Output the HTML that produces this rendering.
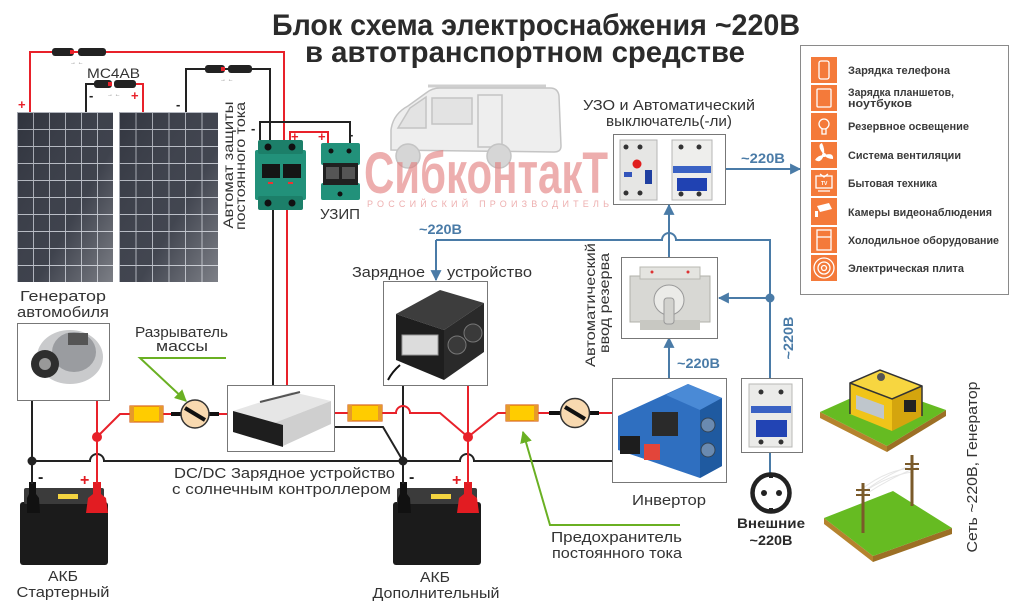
<!DOCTYPE html>
<html><head><meta charset="utf-8">
<style>
html,body{margin:0;padding:0;background:#fff;}
svg{display:block;}
text{font-family:"Liberation Sans","DejaVu Sans",sans-serif;}
</style></head>
<body>
<svg width="1024" height="612" viewBox="0 0 1024 612" xmlns="http://www.w3.org/2000/svg">
<defs>
<pattern id="cells" x="17" y="112" width="16" height="17" patternUnits="userSpaceOnUse">
<rect width="16" height="17" fill="#353944"/>
<path d="M0 0.5H16M0.5 0V17" stroke="#b9bdc6" stroke-width="0.9"/>
</pattern>
<pattern id="cells2" x="119" y="112" width="16.5" height="17" patternUnits="userSpaceOnUse">
<rect width="16.5" height="17" fill="#383c47"/>
<path d="M0 0.5H16.5M0.5 0V17" stroke="#b9bdc6" stroke-width="0.9"/>
</pattern>
<linearGradient id="pshade" x1="0" y1="0" x2="1" y2="1">
<stop offset="0" stop-color="#000" stop-opacity="0.1"/>
<stop offset="0.6" stop-color="#fff" stop-opacity="0.05"/>
<stop offset="1" stop-color="#fff" stop-opacity="0.35"/>
</linearGradient>
<marker id="ab" viewBox="0 0 10 10" refX="9" refY="5" markerWidth="11" markerHeight="11" markerUnits="userSpaceOnUse" orient="auto"><path d="M0 0L10 5L0 10z" fill="#4a7ba7"/></marker>
<marker id="ag" viewBox="0 0 10 10" refX="9" refY="5" markerWidth="12" markerHeight="12" markerUnits="userSpaceOnUse" orient="auto"><path d="M0 0L10 5L0 10z" fill="#6ab023"/></marker>
</defs>

<!-- Title -->
<text x="272" y="35" font-size="30" font-weight="bold" fill="#2b2b2b" textLength="528" lengthAdjust="spacingAndGlyphs">Блок схема электроснабжения ~220В</text>
<text x="305" y="62" font-size="30" font-weight="bold" fill="#2b2b2b" textLength="440" lengthAdjust="spacingAndGlyphs">в автотранспортном средстве</text>

<!-- Van -->
<g fill="#eeeeee" stroke="#c4c4c4" stroke-width="1.5">
<path d="M391 150 L391 130 Q393 114 408 106 L426 93 Q432 88 440 88 L550 88 Q558 88 559 96 L561 146 Q561 152 554 152 Z"/>
<path d="M398 128 L410 108 L426 97 L426 128 Z" fill="#e3e3e3"/>
<rect x="432" y="98" width="40" height="26" fill="#e3e3e3"/>
<rect x="478" y="95" width="24" height="52"/>
<circle cx="408" cy="156" r="12" fill="#d6d6d6"/>
<circle cx="499" cy="156" r="12" fill="#d6d6d6"/>
</g>
<line x1="428" y1="86" x2="546" y2="86" stroke="#cfcfcf" stroke-width="3"/>

<!-- Watermark -->
<text x="364" y="193" font-size="58" font-weight="bold" fill="#e27a7a" opacity="0.6" textLength="244" lengthAdjust="spacingAndGlyphs">СибконтакТ</text>
<text x="367" y="207" font-size="9" fill="#e27a7a" opacity="0.6" textLength="242" lengthAdjust="spacing">РОССИЙСКИЙ ПРОИЗВОДИТЕЛЬ</text>

<!-- Solar panels -->
<rect x="17" y="112" width="96" height="170" fill="url(#cells)"/>
<rect x="17" y="112" width="96" height="170" fill="url(#pshade)"/>
<rect x="119" y="112" width="99" height="170" fill="url(#cells2)"/>
<rect x="119" y="112" width="99" height="170" fill="url(#pshade)"/>

<!-- Solar wires -->
<g fill="none" stroke-width="2">
<path d="M30 112 V52 H284 V140" stroke="#e8212a"/>
<path d="M86 112 V84 H110" stroke="#222"/>
<path d="M118 84 H143 V112" stroke="#e8212a"/>
<path d="M186 112 V69 H270 V140" stroke="#222"/>
<path d="M260 140 V122 H350 V143" stroke="#222"/>
<path d="M290 140 V132 H328 V143" stroke="#e8212a"/>
<path d="M273 210 V385" stroke="#222"/>
<path d="M287 210 V385" stroke="#e8212a"/>
</g>
<!-- MC4 connectors -->
<g fill="#222">
<rect x="52" y="48" width="22" height="8" rx="3"/><rect x="78" y="48" width="28" height="8" rx="3"/>
<rect x="94" y="80" width="18" height="8" rx="3"/><rect x="114" y="80" width="22" height="8" rx="3"/>
<rect x="205" y="65" width="20" height="8" rx="3"/><rect x="228" y="65" width="24" height="8" rx="3"/>
</g>
<g fill="#e8212a"><rect x="70" y="50" width="4" height="4"/><rect x="108" y="82" width="4" height="4"/><rect x="221" y="67" width="4" height="4"/></g>
<g font-size="6" fill="#777">
<text x="70" y="64">→ ←</text><text x="107" y="96">→ ←</text><text x="220" y="81">→ ←</text>
</g>
<text x="87" y="78" font-size="14" fill="#333" textLength="53" lengthAdjust="spacingAndGlyphs">МС4АВ</text>
<g font-size="13" font-weight="bold">
<text x="18" y="109" fill="#e8212a">+</text>
<text x="89" y="100" fill="#222">-</text>
<text x="131" y="100" fill="#e8212a">+</text>
<text x="176" y="109" fill="#222">-</text>
<text x="251" y="133" fill="#222">-</text>
<text x="291" y="141" fill="#e8212a">+</text>
<text x="318" y="141" fill="#e8212a">+</text>
<text x="349" y="139" fill="#222">-</text>
</g>

<!-- DC breaker -->
<rect x="255" y="150" width="51" height="50" rx="2" fill="#22917a"/>
<rect x="258" y="140" width="45" height="14" rx="2" fill="#1c7f69"/>
<rect x="258" y="196" width="45" height="14" rx="2" fill="#1c7f69"/>
<circle cx="268" cy="147" r="3.5" fill="#111"/><circle cx="292" cy="147" r="3.5" fill="#111"/>
<circle cx="268" cy="203" r="3.5" fill="#111"/><circle cx="292" cy="203" r="3.5" fill="#111"/>
<rect x="262" y="164" width="18" height="14" fill="#151515"/><rect x="283" y="164" width="18" height="14" fill="#151515"/>
<rect x="268" y="182" width="5" height="2" fill="#e33"/><rect x="288" y="182" width="5" height="2" fill="#e33"/>
<!-- UZIP -->
<rect x="321" y="143" width="39" height="22" rx="2" fill="#22917a"/>
<rect x="321" y="183" width="39" height="17" rx="2" fill="#22917a"/>
<rect x="323" y="163" width="35" height="22" fill="#202020"/>
<rect x="326" y="167" width="13" height="12" fill="#555"/><rect x="342" y="167" width="13" height="12" fill="#555"/>
<circle cx="331" cy="151" r="2.5" fill="#111"/><circle cx="349" cy="151" r="2.5" fill="#111"/>
<circle cx="340" cy="194" r="2.5" fill="#111"/>
<text x="233" y="165" font-size="14" fill="#333" text-anchor="middle" transform="rotate(-90 233 165)" textLength="127" lengthAdjust="spacingAndGlyphs">Автомат защиты</text>
<text x="245" y="166" font-size="14" fill="#333" text-anchor="middle" transform="rotate(-90 245 166)" textLength="128" lengthAdjust="spacingAndGlyphs">постоянного тока</text>
<text x="320" y="219" font-size="15" fill="#333" textLength="40" lengthAdjust="spacingAndGlyphs">УЗИП</text>

<!-- UZO box -->
<text x="583" y="110" font-size="15" fill="#333" textLength="172" lengthAdjust="spacingAndGlyphs">УЗО и Автоматический</text>
<text x="606" y="126" font-size="15" fill="#333" textLength="126" lengthAdjust="spacingAndGlyphs">выключатель(-ли)</text>
<rect x="613.5" y="134.5" width="112" height="70" fill="#fff" stroke="#777"/>
<rect x="620" y="140" width="37" height="60" fill="#e6e6e4" stroke="#b5b5b5"/>
<circle cx="626" cy="147" r="2.5" fill="#333"/><circle cx="640" cy="147" r="2.5" fill="#333"/>
<circle cx="626" cy="193" r="2.5" fill="#333"/><circle cx="640" cy="193" r="2.5" fill="#333"/>
<circle cx="637" cy="164" r="4.5" fill="#e01e1e"/>
<rect x="624" y="172" width="8" height="5" fill="#3355bb"/>
<rect x="645" y="170" width="7" height="14" fill="#1f3fa0"/>
<rect x="672" y="140" width="40" height="60" fill="#eeeeec" stroke="#b5b5b5"/>
<circle cx="681" cy="147" r="2.5" fill="#333"/><circle cx="699" cy="147" r="2.5" fill="#333"/>
<circle cx="681" cy="194" r="2.5" fill="#333"/><circle cx="699" cy="194" r="2.5" fill="#333"/>
<rect x="673" y="166" width="38" height="7" fill="#3a62c4"/>
<rect x="677" y="178" width="30" height="13" fill="#2042b2"/>

<!-- Legend -->
<rect x="800.5" y="45.5" width="208" height="249" fill="#fff" stroke="#8a8a8a"/>
<g fill="#f47a3a">
<rect x="811" y="57" width="26" height="26"/><rect x="811" y="85" width="26" height="26"/>
<rect x="811" y="113" width="26" height="27"/><rect x="811" y="142" width="26" height="26"/>
<rect x="811" y="170" width="26" height="26"/><rect x="811" y="198" width="26" height="27"/>
<rect x="811" y="227" width="26" height="26"/><rect x="811" y="255" width="26" height="26"/>
</g>
<g fill="none" stroke="#fff" stroke-width="1.3">
<rect x="819" y="61" width="10" height="18" rx="2"/>
<rect x="817" y="89" width="14" height="18" rx="1"/>
<circle cx="824" cy="124" r="5"/><path d="M822 129v5h4v-5"/>
<rect x="816" y="176" width="16" height="12"/><path d="M820 174l4 3 4-3M818 191h12"/>
<rect x="817" y="230" width="14" height="20"/><path d="M817 237h14"/>
<circle cx="824" cy="268" r="10"/><circle cx="824" cy="268" r="6"/><circle cx="824" cy="268" r="2.5"/>
</g>
<g fill="#fff">
<path d="M824 155 q-8 -10 -2 -12 q3 6 2 12z M824 155 q10 -3 9 4 q-6 0 -9 -4z M824 155 q-3 9 -9 5 q3 -5 9 -5z"/>
<circle cx="824" cy="155" r="2"/>
<path d="M817 206 l12 -3 l3 6 l-12 3z M815 211 h3 v6 h-3z"/>
</g>
<text x="821" y="185" font-size="5" fill="#fff" font-weight="bold">TV</text>
<g font-size="11" font-weight="bold" fill="#3a3a3a">
<text x="848" y="74" textLength="102" lengthAdjust="spacingAndGlyphs">Зарядка телефона</text>
<text x="848" y="96" textLength="106" lengthAdjust="spacingAndGlyphs">Зарядка планшетов,</text>
<text x="848" y="107" textLength="64" lengthAdjust="spacingAndGlyphs">ноутбуков</text>
<text x="848" y="130" textLength="121" lengthAdjust="spacingAndGlyphs">Резервное освещение</text>
<text x="848" y="159" textLength="113" lengthAdjust="spacingAndGlyphs">Система вентиляции</text>
<text x="848" y="187" textLength="89" lengthAdjust="spacingAndGlyphs">Бытовая техника</text>
<text x="848" y="216" textLength="144" lengthAdjust="spacingAndGlyphs">Камеры видеонаблюдения</text>
<text x="848" y="244" textLength="151" lengthAdjust="spacingAndGlyphs">Холодильное оборудование</text>
<text x="848" y="272" textLength="116" lengthAdjust="spacingAndGlyphs">Электрическая плита</text>
</g>

<!-- Blue AC lines -->
<g fill="none" stroke="#4a7ba7" stroke-width="2">
<path d="M726 169 H800" marker-end="url(#ab)"/>
<path d="M436 240 H662 a7 7 0 0 1 14 0 H770 V378"/>
<path d="M436 240 V280" marker-end="url(#ab)"/>
<path d="M669 257 V205" marker-end="url(#ab)"/>
<path d="M770 298 H719" marker-end="url(#ab)"/>
<path d="M669 378 V338" marker-end="url(#ab)"/>
<path d="M770 452 V474"/>
</g>
<circle cx="770" cy="298" r="4.5" fill="#4a7ba7"/>
<g font-size="14" font-weight="bold" fill="#4a7ba7">
<text x="741" y="163" textLength="44" lengthAdjust="spacingAndGlyphs">~220В</text>
<text x="419" y="234" textLength="43" lengthAdjust="spacingAndGlyphs">~220В</text>
<text x="677" y="368" textLength="43" lengthAdjust="spacingAndGlyphs">~220В</text>
<text x="793" y="338" text-anchor="middle" transform="rotate(-90 793 338)" textLength="43" lengthAdjust="spacingAndGlyphs">~220В</text>
</g>

<!-- ATS -->
<text x="595" y="305" font-size="14" fill="#333" text-anchor="middle" transform="rotate(-90 595 305)" textLength="124" lengthAdjust="spacingAndGlyphs">Автоматический</text>
<text x="609" y="303" font-size="14" fill="#333" text-anchor="middle" transform="rotate(-90 609 303)" textLength="100" lengthAdjust="spacingAndGlyphs">ввод резерва</text>
<rect x="621.5" y="257.5" width="96" height="81" fill="#fff" stroke="#777"/>
<rect x="630" y="276" width="80" height="46" fill="#d8d8d4" stroke="#b0b0aa"/>
<rect x="640" y="267" width="60" height="12" fill="#e4e4e0" stroke="#b8b8b2"/>
<rect x="640" y="320" width="60" height="10" fill="#c8c8c2"/>
<circle cx="669" cy="300" r="15" fill="#ebebe8" stroke="#999"/>
<rect x="664" y="298" width="10" height="26" rx="3" fill="#d2d2ce" stroke="#999"/>
<circle cx="652" cy="272" r="1.5" fill="#d33"/><circle cx="688" cy="272" r="1.5" fill="#d33"/>

<!-- Inverter -->
<rect x="612.5" y="378.5" width="114" height="104" fill="#fff" stroke="#777"/>
<path d="M618 416 L688 384 L722 398 L722 466 L700 478 L618 450 Z" fill="#2f6fc0"/>
<path d="M688 384 L722 398 L700 410 L666 395 Z" fill="#4a8ad6"/>
<path d="M700 410 L722 398 L722 466 L700 478 Z" fill="#1f5aa0"/>
<circle cx="708" cy="425" r="7" fill="#6a8ab0" stroke="#345"/>
<circle cx="708" cy="450" r="7" fill="#6a8ab0" stroke="#345"/>
<rect x="652" y="412" width="26" height="24" fill="#2a2a2a"/>
<rect x="620" y="436" width="20" height="18" fill="#1d1d1d"/>
<rect x="644" y="444" width="16" height="16" fill="#e3453a"/>
<text x="632" y="505" font-size="15" fill="#333" textLength="74" lengthAdjust="spacingAndGlyphs">Инвертор</text>

<!-- External breaker & socket -->
<rect x="741.5" y="378.5" width="61" height="74" fill="#fff" stroke="#777"/>
<rect x="749" y="384" width="43" height="63" fill="#ebebe9" stroke="#b8b8b6"/>
<circle cx="761" cy="392" r="2.5" fill="#333"/><circle cx="781" cy="392" r="2.5" fill="#333"/>
<circle cx="761" cy="442" r="2.5" fill="#333"/><circle cx="781" cy="442" r="2.5" fill="#333"/>
<rect x="751" y="406" width="40" height="7" fill="#3a62c4"/>
<rect x="756" y="420" width="31" height="17" fill="#2244b4"/>
<circle cx="771" cy="493" r="18.5" fill="#fff" stroke="#222" stroke-width="4.5"/>
<circle cx="764" cy="493" r="3" fill="#222"/><circle cx="779" cy="493" r="3" fill="#222"/>
<rect x="769" y="473" width="4" height="5" fill="#222"/><rect x="769" y="508" width="4" height="5" fill="#222"/>
<g font-size="14" font-weight="bold" fill="#2a2a2a">
<text x="771" y="528" text-anchor="middle" textLength="68" lengthAdjust="spacingAndGlyphs">Внешние</text>
<text x="771" y="545" text-anchor="middle" textLength="43" lengthAdjust="spacingAndGlyphs">~220В</text>
</g>

<!-- Generator tile -->
<polygon points="820,412 887,446 887,452 820,418" fill="#b5832e"/>
<polygon points="887,446 946,410 946,416 887,452" fill="#9c6f25"/>
<polygon points="820,412 878,386 946,410 887,446" fill="#66bb22"/>
<polygon points="850,383 892,399 892,431 850,414" fill="#f0c419"/>
<polygon points="892,399 922,386 922,416 892,431" fill="#d4a50e"/>
<polygon points="850,383 880,370 922,386 892,399" fill="#f7d640"/>
<polyline points="850,414 850,383 880,370 922,386 922,416" fill="none" stroke="#333" stroke-width="1.5"/>
<polyline points="850,383 892,399 922,386 M892,399 892,431" fill="none" stroke="#333" stroke-width="1.5"/>
<rect x="856" y="395" width="28" height="14" fill="#bfc6cc" transform="skewY(20)" transform-origin="856 395"/>
<rect x="904" y="400" width="12" height="12" fill="#222"/>
<circle cx="881" cy="377" r="4" fill="#555"/>

<!-- Power line tile -->
<polygon points="824,518 873,556 873,562 824,524" fill="#b5832e"/>
<polygon points="873,556 952,528 952,534 873,562" fill="#9c6f25"/>
<polygon points="824,518 893,491 952,528 873,556" fill="#66bb22"/>
<g stroke="#e6e6e6" stroke-width="1" fill="none">
<path d="M858 492 Q885 470 912 468"/><path d="M858 496 Q885 476 912 472"/>
<path d="M866 490 Q890 472 918 463"/><path d="M866 494 Q890 478 918 467"/>
</g>
<g stroke="#7a5a2a" stroke-width="3">
<line x1="863" y1="483" x2="863" y2="533"/><line x1="912" y1="455" x2="912" y2="506"/>
</g>
<g stroke="#7a5a2a" stroke-width="2">
<line x1="856" y1="490" x2="870" y2="490"/><line x1="856" y1="495" x2="870" y2="495"/>
<line x1="905" y1="464" x2="919" y2="464"/><line x1="905" y1="469" x2="919" y2="469"/>
</g>
<text x="977" y="467" font-size="15" fill="#333" text-anchor="middle" transform="rotate(-90 977 467)" textLength="171" lengthAdjust="spacingAndGlyphs">Сеть ~220В, Генератор</text>

<!-- Charger -->
<text x="352" y="277" font-size="15" fill="#333" textLength="73" lengthAdjust="spacingAndGlyphs">Зарядное</text>
<text x="447" y="277" font-size="15" fill="#333" textLength="85" lengthAdjust="spacingAndGlyphs">устройство</text>
<rect x="383.5" y="281.5" width="104" height="104" fill="#fff" stroke="#777"/>
<polygon points="396,314 440,290 484,303 444,330" fill="#3d3d3d"/>
<polygon points="396,314 444,330 444,380 396,360" fill="#1e1e1e"/>
<polygon points="444,330 484,303 484,352 444,380" fill="#2a2a2a"/>
<circle cx="457" cy="345" r="9" fill="#3a3a3a" stroke="#777"/>
<circle cx="473" cy="333" r="9" fill="#3a3a3a" stroke="#777"/>
<rect x="402" y="335" width="36" height="20" fill="#dcdcdc" stroke="#999"/>
<path d="M400 365 Q392 372 388 380" stroke="#111" stroke-width="2" fill="none"/>

<!-- Generator (alternator) -->
<text x="63" y="301" font-size="15" fill="#333" text-anchor="middle" textLength="86" lengthAdjust="spacingAndGlyphs">Генератор</text>
<text x="63" y="317" font-size="15" fill="#333" text-anchor="middle" textLength="92" lengthAdjust="spacingAndGlyphs">автомобиля</text>
<rect x="17.5" y="323.5" width="92" height="77" fill="#fff" stroke="#777"/>
<ellipse cx="70" cy="357" rx="33" ry="27" fill="#c9cacc"/>
<ellipse cx="74" cy="352" rx="22" ry="20" fill="#9a9ca0"/>
<rect x="68" y="333" width="20" height="12" fill="#555"/>
<circle cx="45" cy="364" r="14" fill="#2e2e2e"/>
<circle cx="45" cy="364" r="6" fill="#999"/>

<!-- DC/DC box -->
<rect x="227.5" y="385.5" width="107" height="66" fill="#fff" stroke="#777"/>
<polygon points="233,411 292,392 331,401 274,423" fill="#e6e6e6"/>
<polygon points="274,423 331,401 331,424 283,446" fill="#cfcfcf"/>
<polygon points="233,411 283,425 283,447 233,432" fill="#1e1e1e"/>
<line x1="260" y1="402" x2="300" y2="392" stroke="#555" stroke-width="2"/>

<!-- Batteries -->
<g>
<rect x="20" y="502" width="88" height="63" rx="3" fill="#1b1b1b"/>
<rect x="24" y="488" width="80" height="16" rx="2" fill="#3b3b3b"/>
<rect x="58" y="494" width="20" height="5" fill="#f3d340"/>
<path d="M27 513 L27 498 L29 494 L29 482 L36 482 L36 494 L39 498 L40 513 Z" fill="#111"/>
<path d="M86 513 L88 498 L93 494 L93 482 L101 482 L101 494 L106 498 L108 513 Z" fill="#e21c22"/>
</g>
<g>
<rect x="393" y="502" width="88" height="63" rx="3" fill="#1b1b1b"/>
<rect x="397" y="488" width="80" height="16" rx="2" fill="#3b3b3b"/>
<rect x="431" y="494" width="20" height="5" fill="#f3d340"/>
<path d="M398 513 L398 498 L400 494 L400 482 L407 482 L407 494 L410 498 L411 513 Z" fill="#111"/>
<path d="M457 513 L459 498 L464 494 L464 482 L472 482 L472 494 L477 498 L479 513 Z" fill="#e21c22"/>
</g>
<g font-size="16" font-weight="bold">
<text x="38" y="482" fill="#222">-</text><text x="80" y="485" fill="#e21c22">+</text>
<text x="409" y="482" fill="#222">-</text><text x="452" y="485" fill="#e21c22">+</text>
</g>
<g font-size="15" fill="#333" text-anchor="middle">
<text x="63" y="581" textLength="30" lengthAdjust="spacingAndGlyphs">АКБ</text>
<text x="63" y="597" textLength="93" lengthAdjust="spacingAndGlyphs">Стартерный</text>
<text x="435" y="582" textLength="30" lengthAdjust="spacingAndGlyphs">АКБ</text>
<text x="436" y="598" textLength="127" lengthAdjust="spacingAndGlyphs">Дополнительный</text>
</g>

<!-- DC wiring -->
<g fill="none" stroke-width="2">
<path d="M32 401 V484" stroke="#222"/>
<path d="M32 461 H90 a7 7 0 0 1 14 0 H460 a7 7 0 0 1 14 0 H612" stroke="#222"/>
<path d="M335 427 H383 L403 461" stroke="#222"/>
<path d="M403 386 V484" stroke="#222"/>
<path d="M97 401 V484" stroke="#e8212a"/>
<path d="M97 437 L120 414 H227" stroke="#e8212a"/>
<path d="M335 413 H396 a7 7 0 0 1 14 0 H440 L468 437 L498 413 H612" stroke="#e8212a"/>
<path d="M468 386 V484" stroke="#e8212a"/>
</g>
<circle cx="32" cy="461" r="4.5" fill="#222"/>
<circle cx="403" cy="461" r="4.5" fill="#222"/>
<circle cx="97" cy="437" r="5" fill="#e8212a"/>
<circle cx="468" cy="437" r="5" fill="#e8212a"/>

<!-- Fuses -->
<g stroke="#d8641e" stroke-width="1.2">
<rect x="130" y="406" width="33" height="16" fill="#ffcc00"/>
<rect x="348" y="405" width="34" height="16" fill="#ffcc00"/>
<rect x="506" y="405" width="32" height="16" fill="#ffcc00"/>
</g>
<g fill="#e69a2a">
<rect x="130" y="406" width="4" height="16"/><rect x="159" y="406" width="4" height="16"/>
<rect x="348" y="405" width="4" height="16"/><rect x="378" y="405" width="4" height="16"/>
<rect x="506" y="405" width="4" height="16"/><rect x="534" y="405" width="4" height="16"/>
</g>

<!-- Mass switches -->
<g>
<path d="M171 414 H181" stroke="#111" stroke-width="4"/><path d="M209 414 H219" stroke="#111" stroke-width="4"/>
<circle cx="195" cy="414" r="14" fill="#f8d9b0" stroke="#333" stroke-width="1.5"/>
<line x1="185" y1="408" x2="205" y2="420" stroke="#111" stroke-width="4"/>
<path d="M549 413 H561" stroke="#111" stroke-width="4"/><path d="M589 413 H599" stroke="#111" stroke-width="4"/>
<circle cx="575" cy="413" r="14.5" fill="#f8d9b0" stroke="#333" stroke-width="1.5"/>
<line x1="565" y1="407" x2="585" y2="419" stroke="#111" stroke-width="4"/>
</g>

<!-- Labels DC -->
<text x="135" y="337" font-size="15" fill="#333" textLength="93" lengthAdjust="spacingAndGlyphs">Разрыватель</text>
<text x="156" y="351" font-size="15" fill="#333" textLength="52" lengthAdjust="spacingAndGlyphs">массы</text>
<text x="174" y="478" font-size="15" fill="#333" textLength="221" lengthAdjust="spacingAndGlyphs">DC/DC Зарядное устройство</text>
<text x="172" y="494" font-size="15" fill="#333" textLength="219" lengthAdjust="spacingAndGlyphs">с солнечным контроллером</text>
<text x="551" y="542" font-size="15" fill="#333" textLength="131" lengthAdjust="spacingAndGlyphs">Предохранитель</text>
<text x="552" y="558" font-size="15" fill="#333" textLength="130" lengthAdjust="spacingAndGlyphs">постоянного тока</text>

<!-- Green pointers -->
<g fill="none" stroke="#6ab023" stroke-width="2">
<path d="M226 358 H140 L186 401" marker-end="url(#ag)"/>
<path d="M680 525 H550 L523 432" marker-end="url(#ag)"/>
</g>
</svg>
</body></html>
